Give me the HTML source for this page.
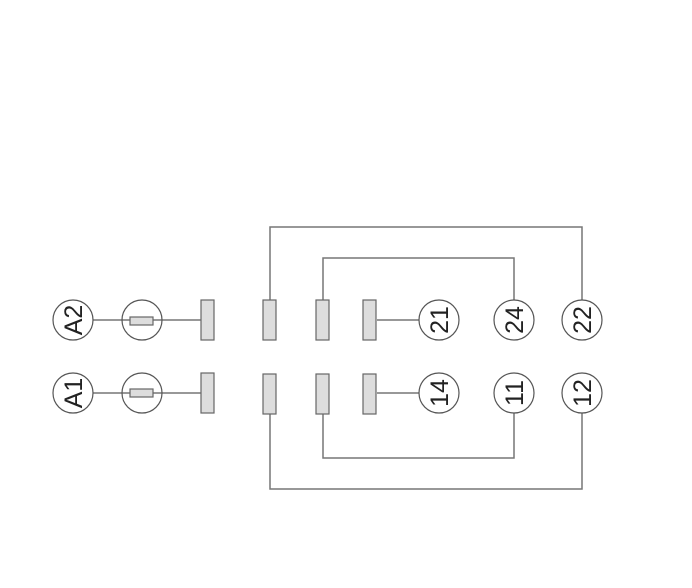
<!DOCTYPE html>
<html><head><style>html,body{margin:0;padding:0;background:#fff;}svg{display:block}</style></head>
<body>
<svg width="692" height="588" viewBox="0 0 692 588" xmlns="http://www.w3.org/2000/svg">
<g fill="none" stroke="#777" stroke-width="1.5">
<line x1="93" y1="320" x2="201" y2="320"/>
<line x1="93" y1="393" x2="201" y2="393"/>
<line x1="377" y1="320" x2="419" y2="320"/>
<line x1="377" y1="393" x2="419" y2="393"/>
<polyline points="270,300 270,227 582,227 582,300"/>
<polyline points="323,300 323,258 514,258 514,300"/>
<polyline points="270,414 270,489 582,489 582,413"/>
<polyline points="323,414 323,458 514,458 514,413"/>
</g>
<g fill="#fff" stroke="#555" stroke-width="1.2">
<circle cx="73" cy="320" r="20"/><circle cx="73" cy="393" r="20"/>
<circle cx="439" cy="320" r="20"/><circle cx="514" cy="320" r="20"/><circle cx="582" cy="320" r="20"/>
<circle cx="439" cy="393" r="20"/><circle cx="514" cy="393" r="20"/><circle cx="582" cy="393" r="20"/>
</g>
<g fill="none" stroke="#555" stroke-width="1.2">
<circle cx="142" cy="320" r="20"/><circle cx="142" cy="393" r="20"/>
</g>
<g fill="#ddd" stroke="#666" stroke-width="1.2">
<rect x="130" y="317" width="23" height="8"/><rect x="130" y="389" width="23" height="8"/>
<rect x="201" y="300" width="13" height="40"/><rect x="201" y="373" width="13" height="40"/>
<rect x="263" y="300" width="13" height="40"/><rect x="263" y="374" width="13" height="40"/>
<rect x="316" y="300" width="13" height="40"/><rect x="316" y="374" width="13" height="40"/>
<rect x="363" y="300" width="13" height="40"/><rect x="363" y="374" width="13" height="40"/>
</g>
<g font-family="Liberation Sans, sans-serif" font-size="25" fill="#222" text-anchor="middle">
<text transform="translate(82,320) rotate(-90)">A2</text>
<text transform="translate(82,393) rotate(-90)">A1</text>
<text transform="translate(448,320) rotate(-90)">21</text>
<text transform="translate(523,320) rotate(-90)">24</text>
<text transform="translate(591,320) rotate(-90)">22</text>
<text transform="translate(448,393) rotate(-90)">14</text>
<text transform="translate(523,393) rotate(-90)">11</text>
<text transform="translate(591,393) rotate(-90)">12</text>
</g>
</svg>
</body></html>
